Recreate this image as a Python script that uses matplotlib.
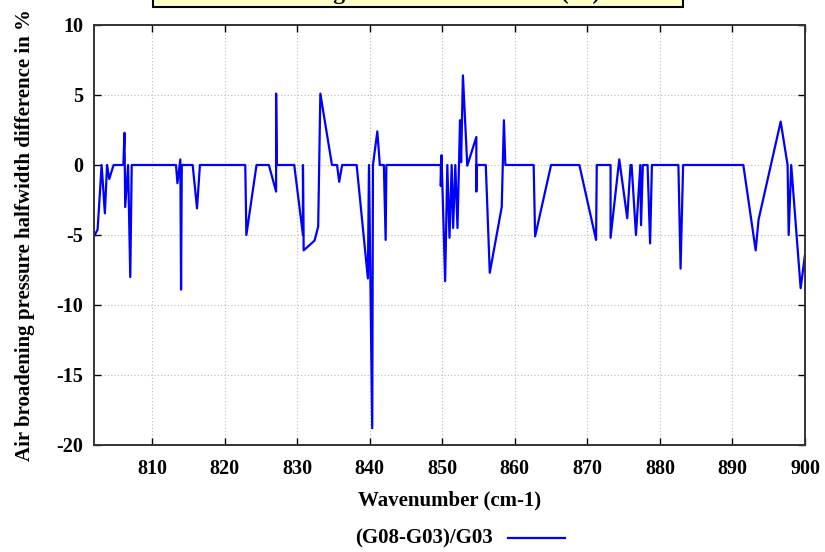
import numpy as np
import matplotlib
matplotlib.use("Agg")
import matplotlib.pyplot as plt
from matplotlib.patches import Rectangle

# wavenumber (cm-1) and relative difference (%)
wavenumber = [
    802.0, 802.5, 803.05, 803.5, 803.8, 804.1, 804.7, 806.05, 806.2, 806.3,
    806.7, 807.0, 807.2, 813.3, 813.5, 813.9, 814.0, 814.1, 815.6, 816.2,
    816.6, 822.85, 823.0, 824.4, 826.1, 827.1, 827.1, 827.2, 829.6, 830.8,
    830.8, 830.9, 832.4, 832.9, 833.2, 834.8, 835.5, 835.8, 836.2, 838.2,
    839.75, 839.9, 840.35, 840.45, 841.05, 841.4, 841.95, 842.2, 842.3, 849.8,
    849.8, 849.9, 850.4, 850.7, 851.0, 851.3, 851.5, 851.8, 852.1, 852.45,
    852.6, 852.85, 853.45, 854.7, 854.7, 854.75, 856.0, 856.55, 858.2, 858.5,
    858.7, 862.6, 862.8, 865.0, 868.9, 871.2, 871.3, 873.2, 873.2, 874.4,
    875.5, 875.95, 876.1, 876.7, 877.3, 877.4, 877.65, 878.3, 878.65, 878.9,
    882.55, 882.85, 883.2, 891.5, 893.2, 893.6, 896.65, 897.6, 897.75, 898.1,
    899.4, 900.0,
]
diff_pct = [
    -5.1, -4.6, 0.0, -3.45, 0.0, -1.0, 0.0, 0.0, 2.3, -3.0,
    0.0, -8.0, 0.0, 0.0, -1.3, 0.4, -8.9, 0.0, 0.0, -3.1,
    0.0, 0.0, -5.0, 0.0, 0.0, -1.9, 5.1, 0.0, 0.0, -5.0,
    0.0, -6.1, -5.4, -4.4, 5.1, 0.0, 0.0, -1.2, 0.0, 0.0,
    -8.1, 0.0, -18.8, 0.0, 2.4, 0.0, 0.0, -5.35, 0.0, 0.0,
    -1.5, 0.7, -8.3, 0.0, -5.2, 0.0, -4.5, 0.0, -4.5, 3.2,
    0.2, 6.4, -0.05, 2.0, -1.9, 0.0, 0.0, -7.7, -3.0, 3.2,
    0.0, 0.0, -5.1, 0.0, 0.0, -5.35, 0.0, 0.0, -5.2, 0.4,
    -3.8, 0.0, 0.0, -5.0, 0.0, -4.3, 0.0, 0.0, -5.6, 0.0,
    0.0, -7.4, 0.0, 0.0, -6.1, -3.9, 3.1, 0.0, -5.0, 0.0,
    -8.8, -6.4,
]
series_label = "(G08-G03)/G03"
title_text = "Air broadening halfwidth difference (%)"
x_ticks = [810, 820, 830, 840, 850, 860, 870, 880, 890, 900]
y_ticks = [-20, -15, -10, -5, 0, 5, 10]

W, H = 825, 552
serif = ["Liberation Serif", "DejaVu Serif"]
plt.rcParams["axes.unicode_minus"] = False

fig = plt.figure(figsize=(W / 100, H / 100), dpi=100)
ax = fig.add_axes([94 / W, 1 - 445 / H, (805 - 94) / W, (445 - 25) / H])

ax.plot(wavenumber, diff_pct, color="#0000ff", lw=1.6)

ax.set_xlim(802, 900)
ax.set_ylim(-20, 10)
ax.set_xticks(x_ticks)
ax.set_yticks(y_ticks)
ax.grid(True, color="#bbbbbb", linestyle=(0, (1, 2)), lw=0.8)
ax.tick_params(direction="in", top=True, right=True, length=5, width=1,
               labelsize=14.5)
ax.tick_params(axis="x", pad=10)
ax.tick_params(axis="y", pad=8)
for lab in ax.get_xticklabels() + ax.get_yticklabels():
    lab.set_family(serif)
    lab.set_fontweight("bold")
for s in ax.spines.values():
    s.set_linewidth(1.4)
    s.set_color("#333333")

ax.set_xlabel("Wavenumber (cm-1)", family=serif, fontweight="bold",
              fontsize=15, labelpad=8)
fig.text(25 / W, 1 - 235 / H,
         "Air broadening pressure halfwidth difference in %",
         rotation=90, ha="center", va="center", family=serif,
         fontweight="bold", fontsize=15)

# title box, mostly above the top edge
fig.patches.append(Rectangle((153 / W, 1 - 7 / H), (683 - 153) / W, 30 / H,
                             transform=fig.transFigure, facecolor="#ffffc8",
                             edgecolor="black", lw=1.5))
fig.text(600 / W, 1 + 1 / H, title_text, ha="right", va="baseline",
         family=serif, fontweight="bold", fontsize=17)

# legend below the plot
fig.text(493 / W, 1 - 538 / H, series_label, ha="right", va="center",
         family=serif, fontweight="bold", fontsize=15)
fig.add_artist(plt.Line2D([508 / W, 565 / W], [1 - 538 / H, 1 - 538 / H],
                          transform=fig.transFigure, color="#0000ff", lw=1.6))

fig.savefig("out.png", dpi=100)
